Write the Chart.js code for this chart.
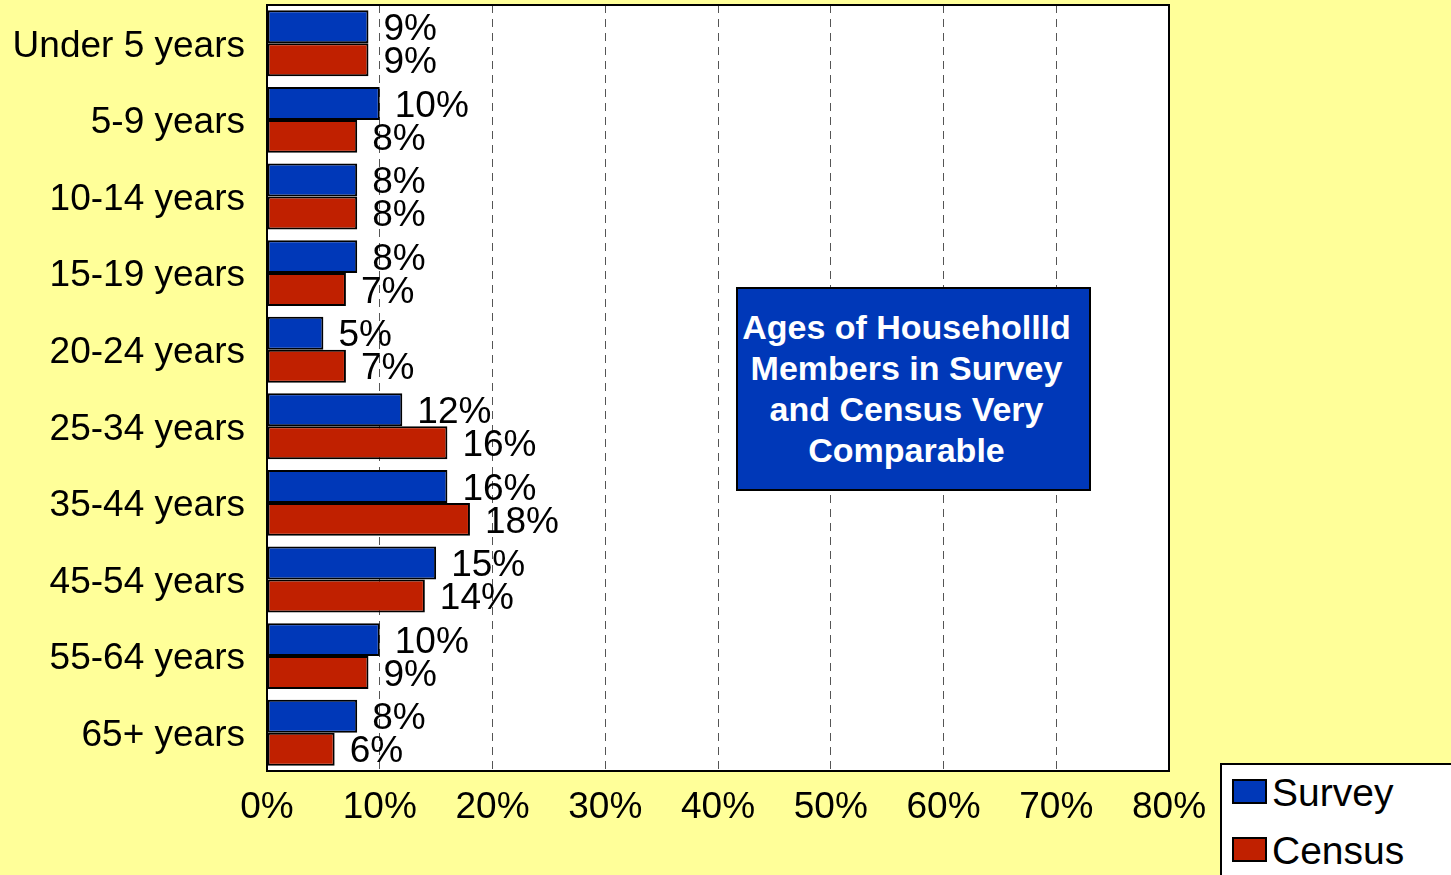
<!DOCTYPE html>
<html>
<head>
<meta charset="utf-8">
<script src="https://cdn.jsdelivr.net/npm/chart.js@4"></script>
<style>
  body { margin: 0; background: #FFFF99; font-family: "Liberation Sans", Arial, sans-serif; }
  #wrap { position: relative; width: 1451px; height: 875px; overflow: hidden; }
  #note {
    position: absolute; left: 736px; top: 287px; width: 337px; height: 200px;
    padding-right: 14px;
    background: #0038B8; border: 2px solid #000; color: #fff;
    font-weight: bold; font-size: 34px; line-height: 41px; text-align: center;
    display: flex; align-items: center; justify-content: center;
  }
  #legend {
    position: absolute; left: 1220px; top: 763px; width: 260px; height: 130px;
    background: #fff; border: 2px solid #000; box-sizing: border-box;
  }
  .item { position: absolute; left: 10px; font-size: 39px; line-height: 38px; color: #000; }
  .swatch { display: inline-block; width: 31px; height: 21px; border: 2px solid #000; vertical-align: 2px; margin-right: 5px; }
</style>
</head>
<body>
<div id="wrap">
  <canvas id="chart" width="1451" height="875"></canvas>
  <div id="note">Ages of Househollld<br>Members in Survey<br>and Census Very<br>Comparable</div>
  <div id="legend"></div>
</div>
<script>
const ageGroups = ['Under 5 years', '5-9 years', '10-14 years', '15-19 years', '20-24 years',
  '25-34 years', '35-44 years', '45-54 years', '55-64 years', '65+ years'];
const surveyValues = [9, 10, 8, 8, 5, 12, 16, 15, 10, 8];
const censusValues = [9, 8, 8, 7, 7, 16, 18, 14, 9, 6];
const xTicks = [0, 10, 20, 30, 40, 50, 60, 70, 80];

const seriesNames = ['Survey', 'Census'];
const seriesColors = ['#0038B8', '#C02000'];

// white plot area and black frame around it
const plotFrame = {
    id: 'plotFrame',
    beforeDraw(chart) {
        const a = chart.chartArea, ctx = chart.ctx;
        ctx.save();
        ctx.fillStyle = '#fff';
        ctx.fillRect(a.left, a.top, a.right - a.left, a.bottom - a.top);
        ctx.restore();
    },
    afterDraw(chart) {
        const a = chart.chartArea, ctx = chart.ctx;
        ctx.save();
        ctx.strokeStyle = '#000';
        ctx.lineWidth = 2;
        ctx.strokeRect(a.left, a.top, a.right - a.left, a.bottom - a.top);
        ctx.restore();
    }
};

// value labels at the end of each bar
const barLabels = {
    id: 'barLabels',
    afterDatasetsDraw(chart) {
        const ctx = chart.ctx;
        ctx.save();
        ctx.font = '37px "Liberation Sans", Arial, sans-serif';
        ctx.fillStyle = '#000';
        ctx.textBaseline = 'middle';
        ctx.textAlign = 'left';
        chart.data.datasets.forEach((ds, i) => {
            chart.getDatasetMeta(i).data.forEach((bar, j) => {
                ctx.fillText(ds.data[j] + '%', bar.x + 15, bar.y + 3);
            });
        });
        ctx.restore();
    }
};

const ctx = document.getElementById('chart').getContext('2d');
const chart = new Chart(ctx, {
    type: 'bar',
    data: {
        labels: ageGroups,
        datasets: [
            { label: seriesNames[0], data: surveyValues, backgroundColor: seriesColors[0] },
            { label: seriesNames[1], data: censusValues, backgroundColor: seriesColors[1] }
        ].map(ds => Object.assign(ds, {
            borderColor: '#000',
            borderWidth: 2,
            borderSkipped: false,
            barPercentage: 1,
            categoryPercentage: 0.86
        }))
    },
    options: {
        indexAxis: 'y',
        responsive: false,
        animation: false,
        layout: { padding: { left: 0, top: 5, right: 282, bottom: 0 } },
        plugins: {
            legend: { display: false },
            tooltip: { enabled: false }
        },
        scales: {
            x: {
                min: 0,
                max: 80,
                afterBuildTicks(scale) { scale.ticks = xTicks.map(v => ({ value: v })); },
                afterFit(scale) { scale.height = 104; },
                ticks: {
                    color: '#000',
                    padding: 15,
                    font: { size: 37, family: '"Liberation Sans", Arial, sans-serif' },
                    callback: v => v + '%',
                    maxRotation: 0
                },
                grid: { color: '#555', lineWidth: 1, drawTicks: false },
                border: { color: '#000', width: 2, dash: [8, 6] }
            },
            y: {
                afterFit(scale) {
                    scale.width = 267;
                    scale.paddingTop = 0;
                    scale.paddingBottom = 0;
                },
                ticks: {
                    color: '#000',
                    padding: 22,
                    labelOffset: 3,
                    font: { size: 37, family: '"Liberation Sans", Arial, sans-serif' }
                },
                grid: { display: false, drawTicks: false },
                border: { color: '#000', width: 2 }
            }
        }
    },
    plugins: [plotFrame, barLabels]
});

// legend box built from the series
const legend = document.getElementById('legend');
seriesNames.forEach((name, i) => {
    const item = document.createElement('div');
    item.className = 'item';
    item.style.top = (9 + i * 58) + 'px';
    item.innerHTML = '<span class="swatch" style="background:' + seriesColors[i] + '"></span>' + name;
    legend.appendChild(item);
});
</script>
</body>
</html>
